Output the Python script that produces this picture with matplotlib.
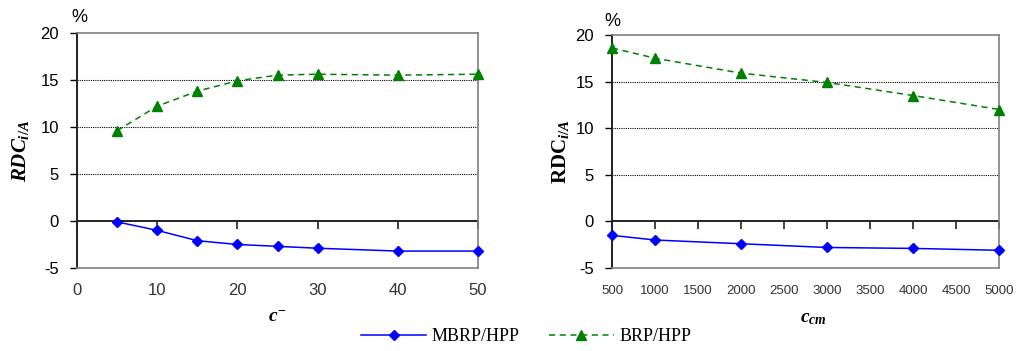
import numpy as np
import matplotlib
matplotlib.use("Agg")
import matplotlib.pyplot as plt

plt.rcParams['font.family'] = ['Liberation Serif', 'DejaVu Serif']
plt.rcParams['mathtext.fontset'] = 'custom'
plt.rcParams['mathtext.rm'] = 'Liberation Serif:bold'
plt.rcParams['mathtext.it'] = 'Liberation Serif:bold:italic'

# left panel: c-
c_minus = [5, 10, 15, 20, 25, 30, 40, 50]
mbrp_left = [-0.1, -1.0, -2.1, -2.5, -2.7, -2.9, -3.2, -3.2]
brp_left = [9.6, 12.2, 13.8, 14.9, 15.5, 15.6, 15.5, 15.6]

# right panel: c_cm
c_cm = [500, 1000, 2000, 3000, 4000, 5000]
mbrp_right = [-1.5, -2.0, -2.4, -2.8, -2.9, -3.1]
brp_right = [18.6, 17.5, 15.9, 14.9, 13.5, 12.0]

blue = '#0000FF'
green = '#008000'
gray = '#808080'
sans = ['Liberation Sans', 'DejaVu Sans']

fig = plt.figure(figsize=(10.16, 3.51), dpi=100)
ax1 = fig.add_axes([0.0758, 0.2365, 0.3947, 0.670])
ax2 = fig.add_axes([0.6024, 0.2365, 0.381, 0.664])

def style(ax, xlim, xticks, xfs, xpad):
    ax.set_xlim(*xlim)
    ax.set_ylim(-5, 20)
    ax.set_yticks(np.arange(-5, 21, 5))
    ax.set_yticklabels(['-5', '0', '5', '10', '15', '20'], family=sans, fontsize=12, color='#333333')
    ax.set_xticks(xticks)
    ax.set_xticklabels([str(t) for t in xticks], family=sans, fontsize=xfs, color='#333333')
    ax.tick_params(axis='x', length=0, pad=xpad)
    ax.tick_params(axis='y', length=5, direction='out', width=1, colors='black', pad=8)
    for s in ['top', 'right', 'bottom']:
        ax.spines[s].set_color(gray)
        ax.spines[s].set_linewidth(1.2)
    ax.spines['left'].set_color('#222222')
    ax.spines['left'].set_linewidth(1.4)
    for v in [5, 10, 15]:
        ax.axhline(v, color='black', lw=0.8, ls=(0, (1, 1)), zorder=1)
    ax.axhline(0, color='#222222', lw=1.4, zorder=2)
    sec = ax.secondary_xaxis(0.2)
    sec.set_xticks(xticks)
    sec.tick_params(axis='x', direction='out', length=6, width=1.2, labelbottom=False, colors='#222222')
    sec.spines['bottom'].set_visible(False)

style(ax1, (0, 50), np.arange(0, 51, 10), 12, 11)
style(ax2, (500, 5000), np.arange(500, 5001, 500), 9.5, 12)

ax1.plot(c_minus, mbrp_left, color=blue, marker='D', ms=5.5, lw=1.1, label='MBRP/HPP', zorder=3, clip_on=False)
ax1.plot(c_minus, brp_left, color=green, marker='^', ms=7, lw=1.1, ls=(0, (4, 3)), label='BRP/HPP', zorder=3, clip_on=False)
ax2.plot(c_cm, mbrp_right, color=blue, marker='D', ms=5.5, lw=1.1, zorder=3, clip_on=False)
ax2.plot(c_cm, brp_right, color=green, marker='^', ms=7, lw=1.1, ls=(0, (4, 3)), zorder=3, clip_on=False)

ax1.set_ylabel(r'$RDC_{i/A}$', fontsize=15)
ax1.yaxis.set_label_coords(-0.115, 0.5)
ax2.set_ylabel(r'$\mathrm{RDC}_{i/A}$', fontsize=15)
ax2.yaxis.set_label_coords(-0.105, 0.5)

ax1.set_xlabel(r'$c^{-}$', fontsize=14)
ax1.xaxis.set_label_coords(0.5, -0.21)
ax1.xaxis.label.set_verticalalignment('center')
ax2.set_xlabel(r'$c_{cm}$', fontsize=14)
ax2.xaxis.set_label_coords(0.52, -0.215)
ax2.xaxis.label.set_verticalalignment('center')

ax1.text(0.005, 1.03, '%', transform=ax1.transAxes, family=sans, fontsize=13, ha='center', va='bottom')
ax2.text(0.0, 1.02, '%', transform=ax2.transAxes, family=sans, fontsize=13, ha='center', va='bottom')

handles, labels = ax1.get_legend_handles_labels()
fig.legend(handles, labels, loc='center', bbox_to_anchor=(0.518, 0.04), ncol=2,
           frameon=False, fontsize=13, handlelength=3.6, columnspacing=1.6, handletextpad=0.3)

fig.savefig('out.png', dpi=100)
